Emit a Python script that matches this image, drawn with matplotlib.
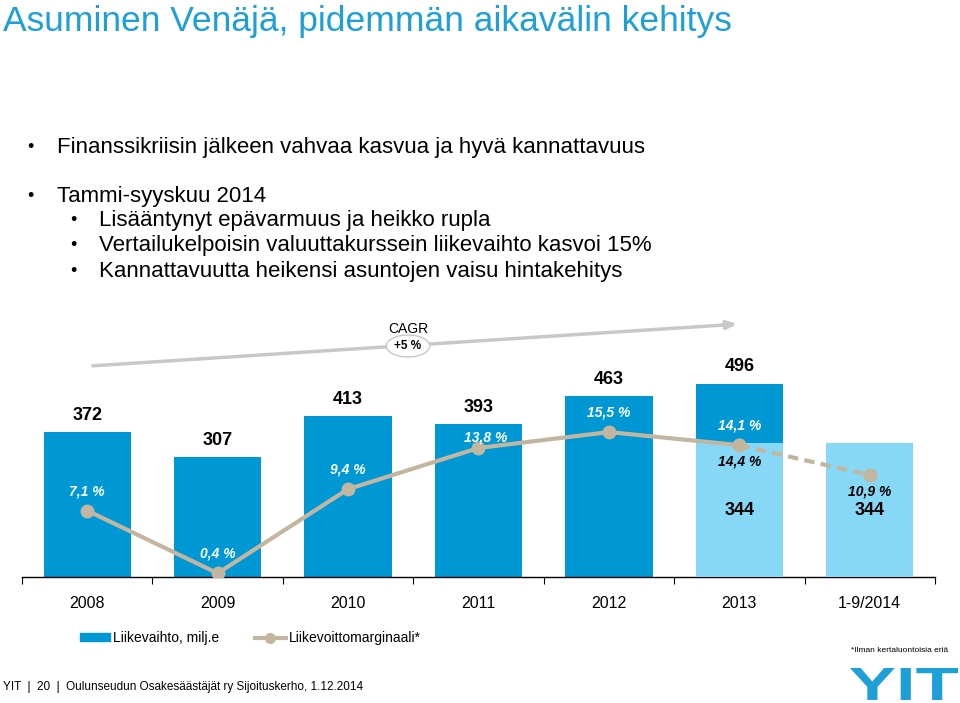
import numpy as np
from matplotlib import pyplot as plt
from matplotlib.patches import Patch, PathPatch
from matplotlib.lines import Line2D
from matplotlib.textpath import TextPath
from matplotlib.font_manager import FontProperties
from matplotlib.transforms import Affine2D

plt.rcParams['font.family'] = ['Liberation Sans', 'DejaVu Sans']

# data
periods = ["2008", "2009", "2010", "2011", "2012", "2013", "1-9/2014"]
revenue = [372, 307, 413, 393, 463, 496, np.nan]       # Liikevaihto, milj.e
revenue_9m = [np.nan, np.nan, np.nan, np.nan, np.nan, 344, 344]  # 1-9 comparison
margin = [7.1, 0.4, 9.4, 13.8, 15.5, 14.1, 10.9]     # Liikevoittomarginaali*, %
margin_9m_2013 = 14.4
cagr = "+5 %"

title = "Asuminen Venäjä, pidemmän aikavälin kehitys"
bullets = [
    (0, "Finanssikriisin jälkeen vahvaa kasvua ja hyvä kannattavuus"),
    (0, "Tammi-syyskuu 2014"),
    (1, "Lisääntynyt epävarmuus ja heikko rupla"),
    (1, "Vertailukelpoisin valuuttakurssein liikevaihto kasvoi 15%"),
    (1, "Kannattavuutta heikensi asuntojen vaisu hintakehitys"),
]

dark_blue = "#0097d5"
light_blue = "#87d7f7"
tan = "#c3b6a0"
title_blue = "#1d9fd8"

W, H = 960, 703
fig = plt.figure(figsize=(W / 100, H / 100), dpi=100)

def fx(px):
    return px / W

def fy(py):
    return 1 - py / H

# header texts
fig.text(fx(3), fy(21), title, fontsize=25.5, color=title_blue, va="center", ha="left")
bullet_y = [147, 196, 221, 246, 271]
for (lvl, txt), y in zip(bullets, bullet_y):
    bx = 27 if lvl == 0 else 70
    tx = 57 if lvl == 0 else 99
    fig.text(fx(bx), fy(y), "•", fontsize=13, va="center", ha="left")
    fig.text(fx(tx), fy(y), txt, fontsize=16, va="center", ha="left")

# chart axes: baseline at y=577, top at y=330
ax = fig.add_axes([fx(22), fy(577), fx(935) - fx(22), (577 - 330) / H])
ax2 = ax.twinx()
ax.set_xlim(-0.5, len(periods) - 0.5)
ax.set_ylim(0, 247 / 0.39)
ax2.set_ylim(0, 247 / 9.35)

x = np.arange(len(periods))
width = 0.67
ax.bar(x, revenue, width=width, color=dark_blue, zorder=2)
ax.bar(x, revenue_9m, width=width, color=light_blue, zorder=3)

# margin line: solid for full years, dashed to 1-9/2014
ax2.plot(x[:6], margin[:6], color=tan, lw=3, marker="o", ms=9, zorder=4)
ax2.plot(x[5:], margin[5:], color=tan, lw=3, ls=(0, (2.5, 1.5)), marker="o", ms=9, zorder=4)

# value labels
for i, v in enumerate(revenue):
    if not np.isnan(v):
        ax.annotate(str(v), (i, v), xytext=(0, 12), textcoords="offset points",
                    ha="center", va="center", fontsize=13, fontweight="bold")
for i, v in enumerate(revenue_9m):
    if not np.isnan(v):
        ax.annotate(str(v), (i, v), xytext=(0, -49), textcoords="offset points",
                    ha="center", va="center", fontsize=13, fontweight="bold")

label_off = [(0, 14), (0, 14), (0, 14), (5, 7.5), (0, 14), (0, 14), (0, -12)]
for i, m in enumerate(margin):
    col = "black" if i == 6 else "white"
    ax2.annotate(f"{m:.1f} %".replace(".", ","), (i, m), xytext=label_off[i],
                 textcoords="offset points", ha="center", va="center",
                 fontsize=10, fontweight="bold", style="italic", color=col, zorder=5)
ax2.annotate(f"{margin_9m_2013:.1f} %".replace(".", ","), (5, margin[5]),
             xytext=(0, -12), textcoords="offset points", ha="center", va="center",
             fontsize=10, fontweight="bold", style="italic", color="black", zorder=5)

# axis styling
for a in (ax, ax2):
    for s in ("top", "left", "right"):
        a.spines[s].set_visible(False)
    a.set_yticks([])
ax2.spines["bottom"].set_visible(False)
ax.spines["bottom"].set_linewidth(1)
ax.set_xticks(np.arange(-0.5, len(periods)), labels=[])
ax.tick_params(axis="x", which="major", length=5, direction="out")
ax.set_xticks(x, labels=periods, minor=True)
ax.tick_params(axis="x", which="minor", length=0, pad=14, labelsize=11.5)

# CAGR arrow
ax.annotate("", xy=(fx(740), fy(324)), xytext=(fx(90), fy(366)),
            xycoords="figure fraction", textcoords="figure fraction",
            arrowprops=dict(arrowstyle="-|>,head_length=0.6,head_width=0.25",
                            color="#c8c8c8", lw=2.5))
fig.text(fx(408), fy(329), "CAGR", fontsize=10, ha="center", va="center")
fig.text(fx(408), fy(346), cagr, fontsize=8.5, fontweight="bold", ha="center", va="center",
         bbox=dict(boxstyle="ellipse,pad=0.15", fc="white", ec="#c8c8c8", lw=1))

# legend
handles = [Patch(color=dark_blue),
           Line2D([], [], color=tan, lw=3, marker="o", ms=7)]
fig.legend(handles, ["Liikevaihto, milj.e", "Liikevoittomarginaali*"],
           loc="center left", bbox_to_anchor=(fx(67), fy(638)), ncol=2,
           frameon=False, fontsize=10, handlelength=2.2, handleheight=0.5,
           handletextpad=0.2, columnspacing=2.6)

# footer
fig.text(fx(948), fy(650), "*Ilman kertaluontoisia eriä", fontsize=6, ha="right", va="center")
fig.text(fx(3), fy(687), "YIT  |  20  |  Oulunseudun Osakesäästäjät ry Sijoituskerho, 1.12.2014",
         fontsize=8.5, ha="left", va="center")

# YIT logo as wide bold text path
tp = TextPath((0, 0), "YIT", size=100, prop=FontProperties(family="Liberation Sans", weight="bold"))
bb = tp.get_extents()
sx = 108 / bb.width
sy = 32 / bb.height
tr = Affine2D().translate(-bb.x0, -bb.y0).scale(sx, sy).translate(850, H - 700)
logo = PathPatch(tr.transform_path(tp), fc=title_blue, ec="none", transform=None)
fig.patches.append(logo)

fig.savefig("out.png", dpi=100)
